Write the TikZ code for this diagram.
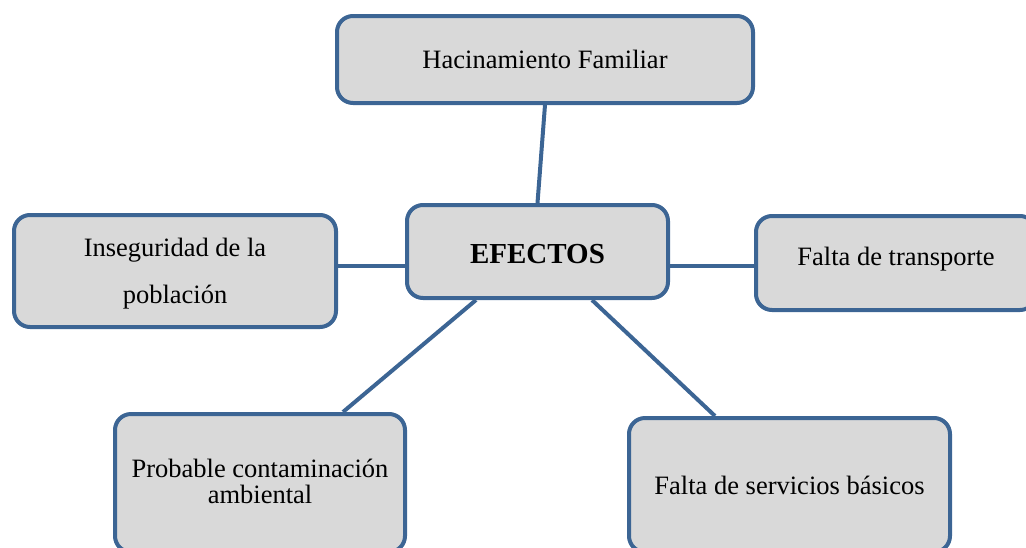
\documentclass[tikz,border=0pt]{standalone}
\usepackage{fontspec}
\setmainfont{Liberation Serif}
\usetikzlibrary{backgrounds}
\definecolor{edgeblue}{HTML}{3C6594}
\definecolor{boxgray}{HTML}{D9D9D9}
\newcommand{\shiftup}[2]{\raisebox{#1}[\height][\depth]{#2}}
\tikzset{
  box/.style={draw=edgeblue, fill=boxgray, line width=4pt, rounded corners=16pt,
    align=center, inner sep=0pt, font=\fontsize{26.5}{26}\selectfont},
  link/.style={draw=edgeblue, line width=4pt}
}
\begin{document}
\begin{tikzpicture}[x=1pt,y=-1pt]
\useasboundingbox (0,0) rectangle (1026,547);
\clip (0,0) rectangle (1026,547);
\node[box, minimum width=416pt, minimum height=87pt] (top) at (545,59.5) {Hacinamiento Familiar};
\node[box, minimum width=261pt, minimum height=93pt, font=\fontsize{29}{29}\selectfont\bfseries] (efectos) at (537.5,251.5) {\shiftup{-3pt}{EFECTOS}};
\node[box, minimum width=322pt, minimum height=112pt] (left) at (175,271) {\shiftup{-3pt}{Inseguridad de la}\\[21pt]\shiftup{-3pt}{población}};
\node[box, minimum width=280pt, minimum height=94pt] (right) at (896,263) {\shiftup{4pt}{Falta de transporte}};
\node[box, minimum width=290pt, minimum height=138pt] (bl) at (260,483) {\shiftup{2pt}{Probable contaminación}\\\shiftup{2pt}{ambiental}};
\node[box, minimum width=321pt, minimum height=134pt] (br) at (789.5,485) {Falta de servicios básicos};
\begin{scope}[on background layer]
\draw[link] (top.south) -- (efectos.north);
\draw[link] (efectos.west |- 0,266) -- (left.east |- 0,266);
\draw[link] (efectos.east |- 0,266) -- (right.west |- 0,266);
\draw[link] (efectos.south -| 476,0) -- (bl.north -| 343,0);
\draw[link] (efectos.south -| 592,0) -- (br.north -| 715,0);
\end{scope}
\end{tikzpicture}
\end{document}
